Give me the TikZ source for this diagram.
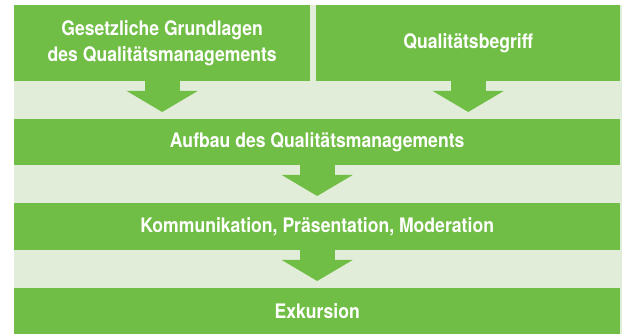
\documentclass[tikz,border=0pt]{standalone}
\usepackage{fontspec}
\setmainfont{TeX Gyre Heros}[FakeStretch=0.88]
\usepackage{tikz}
\usetikzlibrary{arrows.meta,calc}
\definecolor{blockgreen}{RGB}{112,190,69}
\definecolor{bandgreen}{RGB}{225,237,216}

\tikzset{
  block/.style={fill=blockgreen,text=white,font=\fontsize{20}{26}\selectfont\bfseries,
    align=center,inner sep=0pt,anchor=north west},
  flow/.style={blockgreen,line width=35pt,shorten >=7pt,
    -{Triangle[width=70pt,length=21pt]}}
}

\begin{document}
\begin{tikzpicture}[x=1pt,y=-1pt]
            \useasboundingbox (0,0) rectangle (622,334);
            \fill[bandgreen] (14,5) rectangle (622,334);

            % Top row
            \node[block,minimum width=296pt,minimum height=76pt] (recht) at (14,5)
                {Gesetzliche Grundlagen\\des Qualitätsmanagements};
            \node[block,minimum width=304pt,minimum height=76pt] (begriff) at (316,5)
                {Qualitätsbegriff};

            % Lower rows
            \node[block,minimum width=606pt,minimum height=46pt] (aufbau) at (14,119)
                {Aufbau des Qualitätsmanagements};
            \node[block,minimum width=606pt,minimum height=47pt] (kommunikation) at (14,203)
                {Kommunikation, Präsentation, Moderation};
            \node[block,minimum width=606pt,minimum height=46pt] (exkursion) at (14,288)
                {Exkursion};

            % Arrows
            \draw[flow] (recht.south) -- (recht.south |- aufbau.north);
            \draw[flow] (begriff.south) -- (begriff.south |- aufbau.north);
            \draw[flow] (aufbau.south) -- (kommunikation.north);
            \draw[flow] (kommunikation.south) -- (exkursion.north);
        \end{tikzpicture}
\end{document}
